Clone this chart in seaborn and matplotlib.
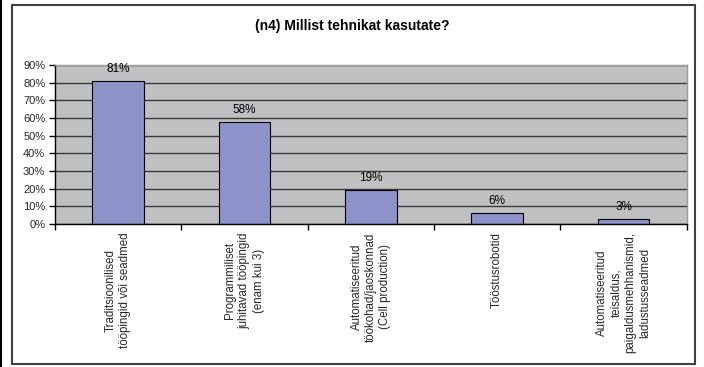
import matplotlib
matplotlib.use('Agg')
import matplotlib.pyplot as plt
import seaborn as sns
import pandas as pd
from matplotlib.ticker import FuncFormatter, FixedLocator
from matplotlib.patches import Rectangle
from matplotlib.lines import Line2D

categories = [
    "Traditsioonilised\ntööpingid või seadmed",
    "Programmiliset\njuhitavad tööpingid\n(enam kui 3)",
    "Automatiseeritud\ntöökohad/jaoskonnad\n(Cell production)",
    "Tööstusrobotid",
    "Automatiseeritud\nteisaldus,\npaigaldusmehhanismid,\nladustusseadmed",
]
values = [0.81, 0.58, 0.19, 0.06, 0.03]
value_labels = ["81%", "58%", "19%", "6%", "3%"]
yticks = [0.0, 0.1, 0.2, 0.3, 0.4, 0.5, 0.6, 0.7, 0.8, 0.9]
title = "(n4) Millist tehnikat kasutate?"

sns.set_theme(style="white")
plt.rcParams['font.family'] = ['Liberation Sans', 'DejaVu Sans']

W, H = 704, 367
fig = plt.figure(figsize=(W / 100, H / 100), dpi=100)
fig.patch.set_facecolor('white')

ax = fig.add_axes([55 / W, 1 - 224 / H, (686.7 - 55) / W, (224 - 65) / H])
df = pd.DataFrame({"cat": categories, "val": values})
sns.barplot(data=df, x="cat", y="val", ax=ax, color="#8D93C8", saturation=1,
            width=0.41, edgecolor="black", linewidth=0.8)

ax.set_facecolor("#BEC0C2")
ax.set_xlim(-0.5, 4.5)
ax.set_ylim(0, 0.9)
ax.set_xlabel("")
ax.set_ylabel("")

ax.set_yticks(yticks)
ax.yaxis.set_major_formatter(FuncFormatter(lambda v, p: f"{v*100:.0f}%"))
ax.yaxis.grid(True, color="#3a3a3a", linewidth=1)
ax.xaxis.grid(False)
ax.set_axisbelow(True)

for s in ["left", "bottom"]:
    ax.spines[s].set_color("black")
    ax.spines[s].set_linewidth(1)
for s in ["top", "right"]:
    ax.spines[s].set_color("#9A9C9E")
    ax.spines[s].set_linewidth(1)

ax.tick_params(axis="y", which="major", direction="out", length=4, width=1,
               color="black", labelsize=8, pad=3, left=True)
ax.set_xticks(range(len(categories)))
ax.set_xticklabels(categories, rotation=90, ha="center", va="top",
                   multialignment="center", linespacing=1.25, fontsize=8.3)
ax.tick_params(axis="x", which="major", length=0, pad=6, bottom=True)
ax.xaxis.set_minor_locator(FixedLocator([-0.5, 0.5, 1.5, 2.5, 3.5, 4.5]))
ax.tick_params(axis="x", which="minor", direction="out", length=4, width=1,
               color="black", bottom=True)

for i, (v, lbl) in enumerate(zip(values, value_labels)):
    ax.annotate(lbl, (i, v), xytext=(0, 6.5), textcoords="offset points",
                ha="center", va="baseline", fontsize=8.5, color="black",
                annotation_clip=False)

fig.text(0.5, 1 - 26 / H, title, ha="center", va="center", fontsize=10,
         fontweight="bold", color="black")

fig.add_artist(Rectangle((11.7 / W, 1 - 364 / H), (695 - 11.7) / W, (364 - 5) / H,
                         transform=fig.transFigure, fill=False,
                         edgecolor="#404040", linewidth=1.5))
fig.add_artist(Line2D([1 / W, 1 / W], [0, 1], transform=fig.transFigure,
                      color="black", linewidth=1.5))

fig.savefig("out.png", dpi=100)
